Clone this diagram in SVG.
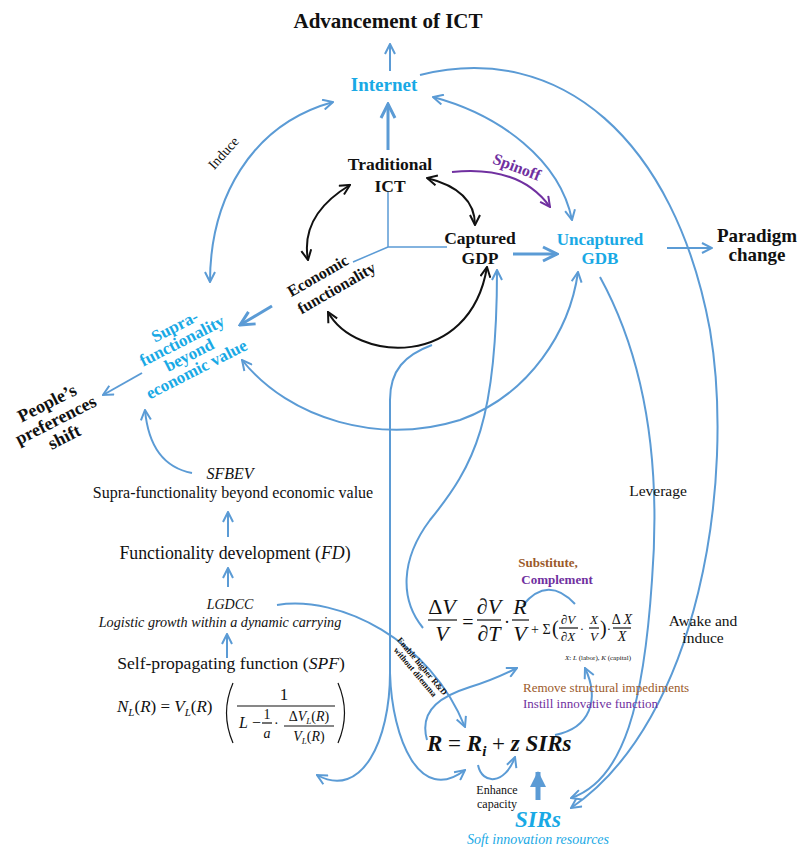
<svg xmlns="http://www.w3.org/2000/svg" width="800" height="850" viewBox="0 0 800 850">
<style>
text{font-family:"Liberation Serif","Times New Roman",serif;fill:#111}
.b{font-weight:bold}
.i{font-style:italic}
.cy{fill:#19A9E5}
.pu{fill:#7030A0}
.br{fill:#9B5A2A}
.ln{fill:none;stroke:#5B9BD5;stroke-width:2}
.lt{fill:none;stroke:#5B9BD5;stroke-width:3}
.lk{fill:none;stroke:#111;stroke-width:2}
.lp{fill:none;stroke:#7030A0;stroke-width:2}
.ax{fill:none;stroke:#5B9BD5;stroke-width:1.5}
.m{fill:none;stroke:#111;stroke-width:1.2}
.c{text-anchor:middle}
</style>
<defs>
<marker id="ab" viewBox="0 0 12 12" refX="11" refY="6" markerWidth="12" markerHeight="12" markerUnits="userSpaceOnUse" orient="auto-start-reverse"><path d="M1,1 L11,6 L1,11" fill="none" stroke="#5B9BD5" stroke-width="2"/></marker>
<marker id="abL" viewBox="0 0 18 18" refX="16" refY="9" markerWidth="18" markerHeight="18" markerUnits="userSpaceOnUse" orient="auto-start-reverse"><path d="M2,2 L16,9 L2,16" fill="none" stroke="#5B9BD5" stroke-width="3"/></marker>
<marker id="abF" viewBox="0 0 16 20" refX="15" refY="10" markerWidth="16" markerHeight="20" markerUnits="userSpaceOnUse" orient="auto"><path d="M0,2 L16,10 L0,18 Z" fill="#5B9BD5"/></marker>
<marker id="ak" viewBox="0 0 12 12" refX="11" refY="6" markerWidth="12" markerHeight="12" markerUnits="userSpaceOnUse" orient="auto-start-reverse"><path d="M1,1 L11,6 L1,11" fill="none" stroke="#111" stroke-width="2"/></marker>
<marker id="ap" viewBox="0 0 12 12" refX="11" refY="6" markerWidth="12" markerHeight="12" markerUnits="userSpaceOnUse" orient="auto"><path d="M1,1 L11,6 L1,11" fill="none" stroke="#7030A0" stroke-width="2"/></marker>
</defs>

<g id="connectors">
<path class="ax" d="M388,192 L388,247 L447,247 M388,247 L353,262"/>
<path class="ln" d="M390,71 L390,44" marker-end="url(#ab)"/>
<path class="lt" d="M388,150 L388,104" marker-end="url(#abL)"/>
<path class="ln" d="M210,282 C210,200 250,125 333,102" marker-start="url(#ab)" marker-end="url(#ab)"/>
<path class="ln" d="M433,97 C500,115 560,160 572,220" marker-start="url(#ab)" marker-end="url(#ab)"/>
<path class="lp" d="M452,172 Q520,165 550,207" marker-end="url(#ap)"/>
<path class="lk" d="M350,185 Q300,215 308,260" marker-start="url(#ak)" marker-end="url(#ak)"/>
<path class="lk" d="M427,178 Q475,190 475,225" marker-start="url(#ak)" marker-end="url(#ak)"/>
<path class="lk" d="M328,312 C355,362 470,370 487,267" marker-start="url(#ak)" marker-end="url(#ak)"/>
<path class="lt" d="M513,254 L557,254" marker-end="url(#abL)"/>
<path class="ln" d="M667,248 L712,248" marker-end="url(#ab)"/>
<path class="lt" d="M272,306 L240,325" marker-end="url(#abL)"/>
<path class="ln" d="M142,373 L103,395" marker-end="url(#ab)"/>
<path class="ln" d="M242,360 C290,420 380,445 460,420 C530,395 570,330 578,272" marker-start="url(#ab)" marker-end="url(#ab)"/>
<path class="ln" d="M192,473 Q150,465 145,410" marker-end="url(#ab)"/>
<path class="ln" d="M228,537 L228,512" marker-end="url(#ab)"/>
<path class="ln" d="M228,587 L228,568" marker-end="url(#ab)"/>
<path class="ln" d="M227,658 L227,634" marker-end="url(#ab)"/>
<path class="ln" d="M423,628 C400,600 400,560 430,520 C475,465 497,420 497,270" marker-end="url(#ab)"/>
<path class="ln" d="M432,345 C405,355 390,370 390,400 L390,673"/>
<path class="ln" d="M390,673 C390,740 362,800 317,775" marker-end="url(#ab)"/>
<path class="ln" d="M390,673 C392,740 420,805 465,770" marker-end="url(#ab)"/>
<path class="ln" d="M277,605 C340,595 430,640 465,727" marker-end="url(#ab)"/>
<path class="ln" d="M523,605 Q548,575 575,604"/>
<path class="ln" d="M427,740 C418,708 445,695 470,687 C490,681 505,674 517,668" marker-end="url(#ab)"/>
<path class="ln" d="M555,735 C590,728 600,700 585,668" marker-end="url(#ab)"/>
<path class="ln" d="M478,765 C482,785 505,785 515,757" marker-end="url(#ab)"/>
<path d="M538,800 L538,772" fill="none" stroke="#5B9BD5" stroke-width="5" marker-end="url(#abF)"/>
<path class="ln" d="M600,277 C640,350 662,450 652,580 C644,700 625,780 571,798" marker-end="url(#ab)"/>
<path class="ln" d="M420,75 C560,40 675,140 710,330 C735,480 700,720 571,808" marker-end="url(#ab)"/>
</g>

<g id="advancement"><text class="b c" x="388" y="28" font-size="21">Advancement of ICT</text></g>
<g id="internet"><text class="b c cy" x="384" y="91" font-size="19">Internet</text></g>
<g id="induce-label"><text class="c" font-size="14" transform="translate(227,156) rotate(-48)">Induce</text></g>
<g id="traditional-ict"><text class="b c" x="390" y="170" font-size="17.5">Traditional</text><text class="b c" x="390" y="192" font-size="17.5">ICT</text></g>
<g id="spinoff"><text class="b c pu" font-size="16" transform="translate(515,172) rotate(21)">Spinoff</text></g>
<g id="captured-gdp"><text class="b c" x="480" y="244" font-size="17.5">Captured</text><text class="b c" x="480" y="264" font-size="17.5">GDP</text></g>
<g id="uncaptured-gdb"><text class="b c cy" x="600" y="245" font-size="17">Uncaptured</text><text class="b c cy" x="600" y="264" font-size="17">GDB</text></g>
<g id="paradigm"><text class="b c" x="757" y="242" font-size="19">Paradigm</text><text class="b c" x="757" y="261" font-size="19">change</text></g>
<g id="economic-functionality" transform="translate(318,276) rotate(-30)"><text class="b c" x="0" y="5" font-size="16">Economic</text><text class="b c" x="10" y="25" font-size="16">functionality</text></g>
<g id="supra" transform="translate(175,327) rotate(-27)"><text class="b c cy" x="0" y="5" font-size="17">Supra-</text><text class="b c cy" x="0" y="21" font-size="17">functionality</text><text class="b c cy" x="0" y="37" font-size="17">beyond</text><text class="b c cy" x="0" y="53" font-size="17">economic value</text></g>
<g id="peoples" transform="translate(47,403) rotate(-27)"><text class="b c" x="0" y="6" font-size="18">People’s</text><text class="b c" x="0" y="25" font-size="18">preferences</text><text class="b c" x="0" y="44" font-size="18">shift</text></g>

<g id="sfbev"><text class="i c" x="230" y="479" font-size="16">SFBEV</text><text class="c" x="233" y="498" font-size="16">Supra-functionality beyond economic value</text></g>
<g id="fd"><text class="c" x="235" y="559" font-size="17.8">Functionality development (<tspan class="i">FD</tspan>)</text></g>
<g id="lgdcc"><text class="i c" x="230" y="609" font-size="14">LGDCC</text><text class="i c" x="220" y="627" font-size="14.2">Logistic growth within a dynamic carrying</text></g>
<g id="spf"><text class="c" x="231" y="669" font-size="17.6">Self-propagating function (<tspan class="i">SPF</tspan>)</text>
<text x="117" y="712" font-size="17"><tspan class="i">N</tspan><tspan class="i" font-size="11" dy="4">L</tspan><tspan dy="-4">(</tspan><tspan class="i">R</tspan>) = <tspan class="i">V</tspan><tspan class="i" font-size="11" dy="4">L</tspan><tspan dy="-4">(</tspan><tspan class="i">R</tspan>)</text>
<path class="m" d="M233,683 Q220,713 233,743 M338,683 Q351,713 338,743"/>
<text class="c" x="284" y="700" font-size="17">1</text>
<path class="m" d="M237,706 L335,706"/>
<text x="239" y="728" font-size="16"><tspan class="i">L</tspan> −</text>
<text class="c" x="267" y="719" font-size="14">1</text>
<path class="m" d="M262,723 L272,723"/>
<text class="c i" x="267" y="738" font-size="14">a</text>
<text x="274" y="728" font-size="14">·</text>
<text class="c" x="309" y="721" font-size="14">Δ<tspan class="i">V</tspan><tspan class="i" font-size="9" dy="3">L</tspan><tspan dy="-3">(</tspan><tspan class="i">R</tspan>)</text>
<path class="m" d="M284,726 L334,726"/>
<text class="c" x="309" y="741" font-size="14"><tspan class="i">V</tspan><tspan class="i" font-size="9" dy="3">L</tspan><tspan dy="-3">(</tspan><tspan class="i">R</tspan>)</text>
</g>

<g id="enable-label" transform="translate(420,668) rotate(50)"><text class="c b" x="0" y="0" font-size="8.5">Enable higher R&amp;D</text><text class="c b" x="0" y="9" font-size="8.5">without dilemma</text></g>

<g id="dv-formula">
<text class="c" x="442" y="614" font-size="22">Δ<tspan class="i">V</tspan></text>
<path class="m" d="M428,620 L457,620"/>
<text class="c i" x="442" y="641" font-size="22">V</text>
<text class="c" x="468" y="629" font-size="20">=</text>
<text class="c" x="489" y="614" font-size="22">∂<tspan class="i">V</tspan></text>
<path class="m" d="M477,620 L501,620"/>
<text class="c" x="489" y="641" font-size="22">∂<tspan class="i">T</tspan></text>
<text class="c" x="507" y="628" font-size="18">·</text>
<text class="c i" x="520" y="614" font-size="22">R</text>
<path class="m" d="M512,620 L529,620"/>
<text class="c i" x="520" y="641" font-size="22">V</text>
<text x="531" y="634" font-size="14">+ Σ</text>
<text x="552" y="635" font-size="20">(</text>
<text class="c" x="568" y="624" font-size="13">∂<tspan class="i">V</tspan></text>
<path class="m" d="M559,628 L578,628"/>
<text class="c" x="568" y="641" font-size="13">∂<tspan class="i">X</tspan></text>
<text class="c" x="582" y="633" font-size="13">·</text>
<text class="c i" x="594" y="624" font-size="13">X</text>
<path class="m" d="M589,628 L599,628"/>
<text class="c i" x="594" y="641" font-size="13">V</text>
<text x="600" y="635" font-size="20">)</text>
<text class="c" x="609" y="633" font-size="13">·</text>
<text class="c" x="622" y="624" font-size="14">Δ <tspan class="i">X</tspan></text>
<path class="m" d="M613,628 L631,628"/>
<text class="c i" x="622" y="641" font-size="14">X</text>
<text class="c" x="598" y="660" font-size="7"><tspan class="i">X</tspan>: <tspan class="i">L</tspan> (labor), <tspan class="i">K</tspan> (capital)</text>
</g>

<g id="substitute"><text class="c b br" x="548" y="567" font-size="13">Substitute,</text><text class="c b pu" x="557" y="584" font-size="13">Complement</text></g>
<g id="remove"><text class="br" x="523" y="692" font-size="13">Remove structural impediments</text><text class="pu" x="523" y="708" font-size="13">Instill innovative function</text></g>

<g id="r-formula"><text class="b i" x="427" y="751" font-size="23">R <tspan font-style="normal" font-weight="normal">=</tspan> R<tspan font-size="15" dy="5">i</tspan><tspan dy="-5" font-style="normal" font-weight="normal"> + </tspan>z SIRs</text></g>
<g id="enhance"><text class="c" x="497" y="794" font-size="12">Enhance</text><text class="c" x="497" y="808" font-size="12">capacity</text></g>
<g id="sirs"><text class="c b i cy" x="538" y="827" font-size="23">SIRs</text><text class="c i cy" x="538" y="844" font-size="14">Soft innovation resources</text></g>
<g id="leverage"><text class="c" x="658" y="496" font-size="15.5">Leverage</text></g>
<g id="awake"><text class="c" x="703" y="626" font-size="15.5">Awake and</text><text class="c" x="703" y="643" font-size="15.5">induce</text></g>
</svg>
